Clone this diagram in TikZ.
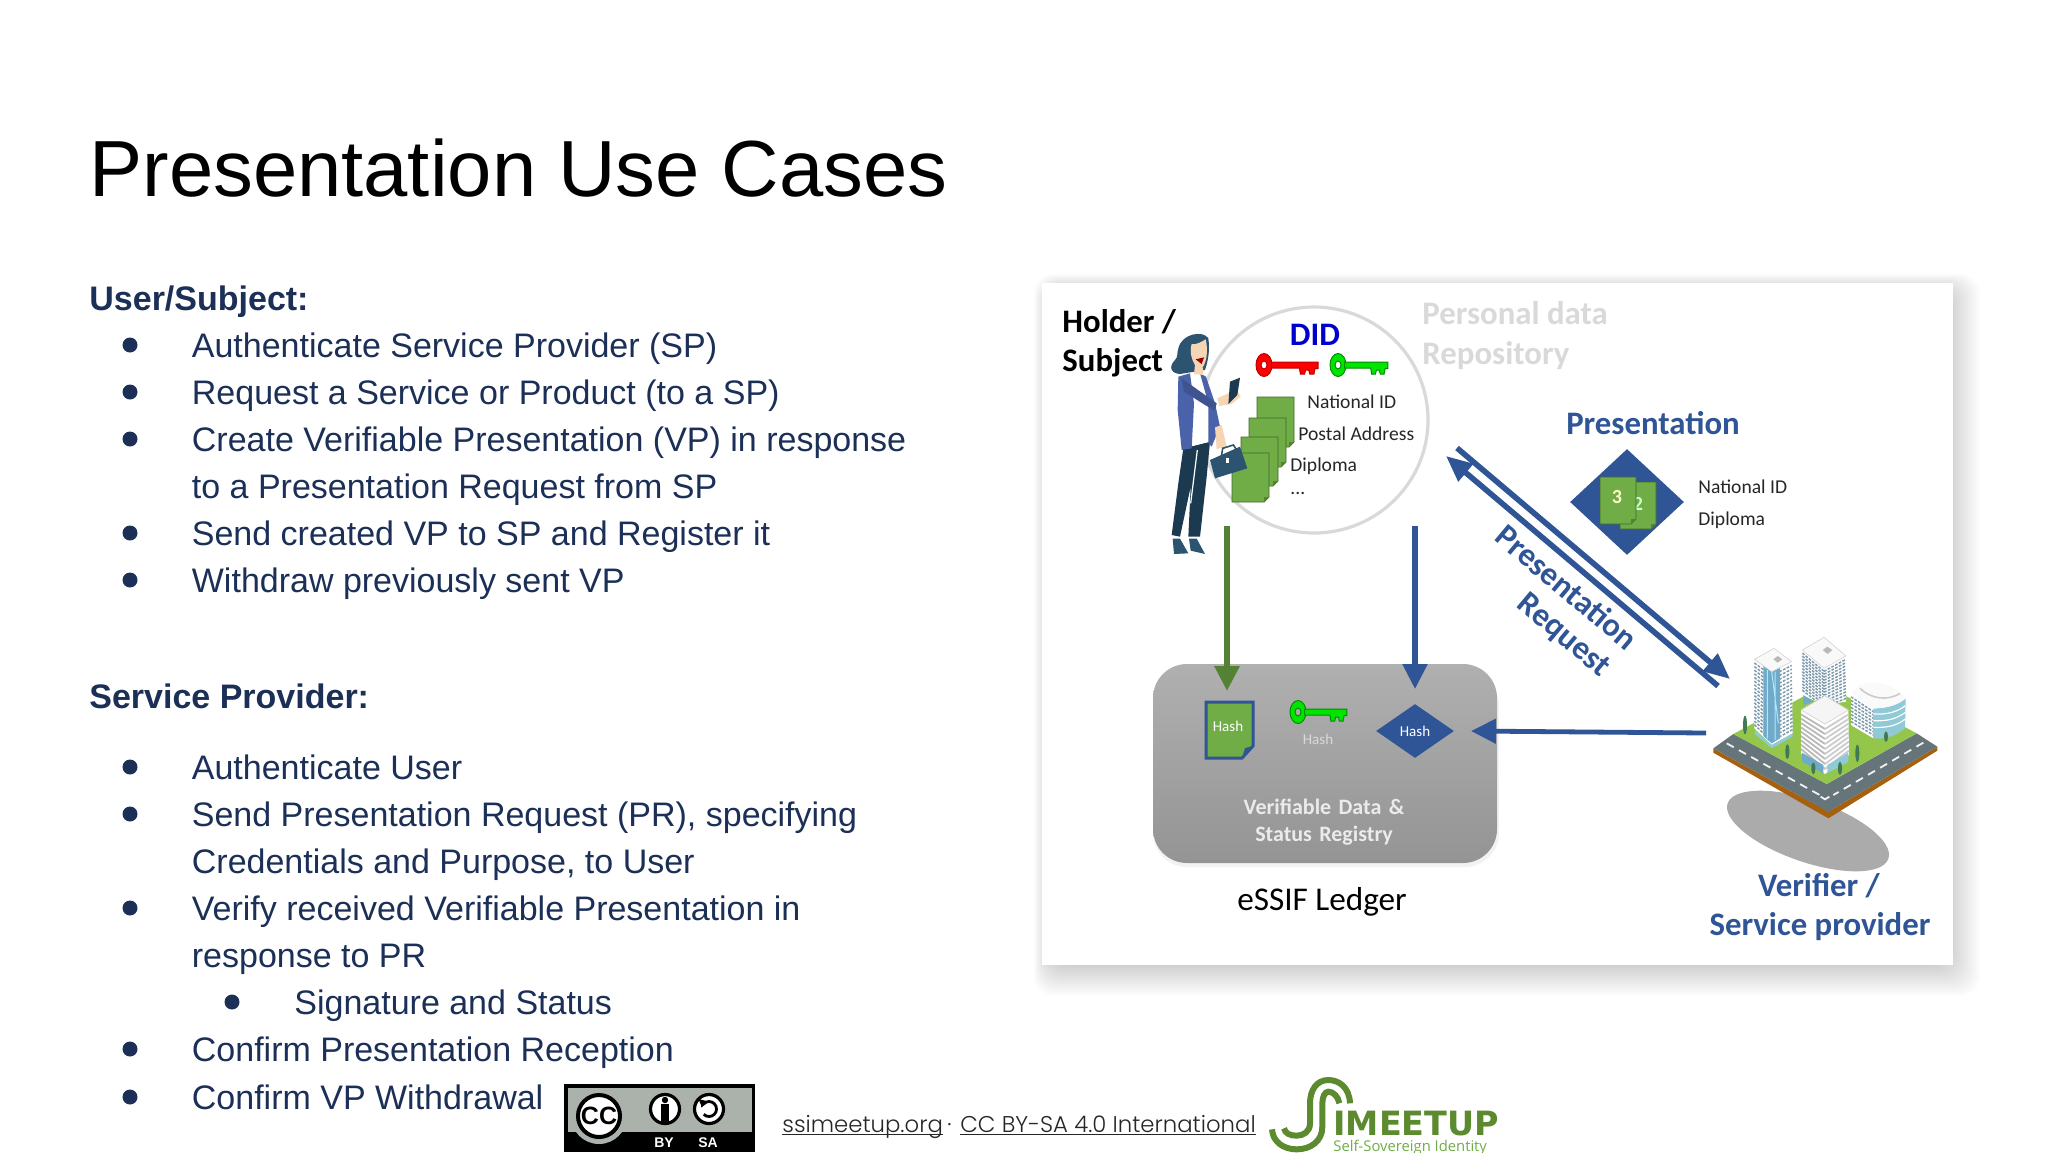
\documentclass[tikz,border=0pt]{standalone}
\usepackage{fontspec}
\setmainfont{Liberation Sans}
\newfontfamily\carl{Carlito}
\newfontfamily\pop[UprightFont=* Light]{Poppins}
\newfontfamily\djv{DejaVu Sans}
\newfontfamily\opn{Open Sans}
\usetikzlibrary{arrows.meta,calc,shapes.geometric}
\definecolor{navy}{HTML}{1B2F57}
\definecolor{pblue}{HTML}{2F5597}
\definecolor{dgreen}{HTML}{548235}
\definecolor{lgreen}{HTML}{70AD47}
\definecolor{ringgrey}{HTML}{D9D9D9}
\definecolor{hair}{HTML}{2C5470}
\definecolor{dark}{HTML}{1B3A50}
\definecolor{jacket}{HTML}{4A62A9}
\definecolor{skin}{HTML}{F6D5B5}
\definecolor{logo}{HTML}{5C8A2E}
\definecolor{road}{HTML}{66757A}
\definecolor{soil}{HTML}{A5610F}
\definecolor{lawn}{HTML}{93C64B}
\definecolor{win}{HTML}{7F9BAD}
\definecolor{glass}{HTML}{6FAAC9}
\definecolor{teal1}{HTML}{8FCAD6}
\definecolor{tree}{HTML}{3F7A55}
\definecolor{ccgrey}{HTML}{AAB2AB}
\tikzset{
 body/.style={anchor=base west,inner sep=0pt,text=navy,font=\fontsize{17}{20}\selectfont},
 head/.style={body,font=\bfseries\fontsize{17}{20}\selectfont},
 dot/.style={circle,fill=navy,inner sep=0pt,minimum size=7.5pt},
 small/.style={anchor=west,inner sep=0pt,font=\carl\fontsize{9.8}{12}\selectfont,text=black!85},
 big/.style={inner sep=0pt,font=\carl\bfseries\fontsize{16.4}{20}\selectfont},
 hash/.style={inner sep=0pt,font=\carl\fontsize{7.5}{9}\selectfont,text=white},
 reg/.style={inner sep=0pt,font=\carl\bfseries\fontsize{11}{13}\selectfont,text=white!92!black},
 docshape/.style={fill=lgreen,draw=dgreen!80!black,line width=.4pt},
 garrow/.style={draw=dgreen,line width=3pt,-{Triangle[length=12.5pt,width=12pt]}},
 barrow/.style={draw=pblue,line width=2.6pt,-{Triangle[length=12.5pt,width=12pt]}},
 darrow/.style={draw=pblue,line width=2.8pt,-{Triangle[length=13pt,width=11pt]}},
 fline/.style={inner sep=0pt,anchor=base west,font=\pop\fontsize{11.4}{14}\selectfont,text=black!85},
 ccring/.style={circle,draw=black,fill=white,inner sep=0pt},
}
\newcommand\keyshape[5]{% x, y, fill, outline, length scale
 \begin{scope}[shift={(#1,#2)}]
  \fill[#3,draw=#4,line width=.5pt,even odd rule] (0,0) ellipse [x radius=8,y radius=11.5] (0,0) ellipse [x radius=3,y radius=4];
  \begin{scope}[xscale=#5]
  \fill[#3,draw=#4,line width=.5pt] (7,-3) -- (52,-3) -- (52,3.5) -- (49,3.5) -- (48,9) -- (44,9) -- (43,5) -- (40,5) -- (39,9) -- (35,9) -- (34,3) -- (7,3) -- cycle;
  \end{scope}
 \end{scope}}
\newcommand\docpage[4]{% x1 y1 x2 y2
 \fill[docshape] (#1,#2) -- (#3,#2) -- (#3,#4-5) -- (#3-5,#4) -- (#1,#4) -- cycle;
 \fill[dgreen] (#3,#4-5) -- (#3-5,#4-5) -- (#3-5,#4) -- cycle;}
\newcommand\facegrid[6]{% A B C D n style
 \foreach \k in {1,...,#5}{
  \pgfmathsetmacro\tt{\k/(#5+1)}
  \draw[#6] ($(#1)!\tt!(#4)$) -- ($(#2)!\tt!(#3)$);}}
\tikzset{winrow/.style={win,line width=.75pt,dash pattern=on 1.4pt off .7pt}}
\begin{document}
\begin{tikzpicture}[x=.5pt,y=-.5pt]
\useasboundingbox (0,0) rectangle (2048,1152);
\fill[white] (0,0) rectangle (2048,1152);

% title and left text
\node[anchor=west,inner sep=0pt,font=\fontsize{39.8}{48}\selectfont] (title) at (89,168) {Presentation Use Cases};
\node[head] (h1) at (89,310) {User/Subject:};
\foreach \nm/\yy/\tx in {a1/345/{Authenticate Service Provider (SP)},a2/392/{Request a Service or Product (to a SP)},a3/439/{Create Verifiable Presentation (VP) in response},a5/533/{Send created VP to SP and Register it},a6/580/{Withdraw previously sent VP},b1/767/{Authenticate User},b2/814/{Send Presentation Request (PR), specifying},b4/908/{Verify received Verifiable Presentation in},b7/1049/{Confirm Presentation Reception},b8/1097/{Confirm VP Withdrawal}}{
 \node[body] (\nm) at (191.5,\yy+12) {\tx};
 \node[dot] (dot\nm) at (130,\yy) {};
}
\node[body] (a4) at (191.5,498) {to a Presentation Request from SP};
\node[head] (h2) at (89,708) {Service Provider:};
\node[body] (b3) at (191.5,873) {Credentials and Purpose, to User};
\node[body] (b5) at (191.5,967) {response to PR};
\node[body] (b6) at (294,1014) {Signature and Status};
\node[dot] (dotb6) at (232,1002) {};

% panel with soft shadow
\foreach \i in {0,2,...,34}{
 \fill[black,opacity=.010,rounded corners=10pt] (1052-18+\i/2,292-18+\i/2) rectangle (1980-\i,996-\i);
}
\fill[white] (1042,283) rectangle (1953,965);

% holder side
\draw[ringgrey,line width=1.6pt] (1314,420) ellipse [x radius=114,y radius=113];
\node[big,anchor=west] (holder) at (1062,322) {Holder /};
\node[big,anchor=west] (subject) at (1062,363) {Subject};
\node[big,text=ringgrey,anchor=west] (pd1) at (1422,313) {Personal data};
\node[big,text=ringgrey,anchor=west] (pd2) at (1422,356) {Repository};
\node[big,text={rgb,255:red,0;green,0;blue,204}] (did) at (1315,335) {DID};
\keyshape{1264}{365}{red}{red!75!black}{1.04}
\keyshape{1338}{365}{green!90!black}{green!55!black}{.96}
\docpage{1257}{397}{1294}{447}
\docpage{1249}{418}{1286}{467}
\docpage{1241}{437}{1278}{486}
\docpage{1232}{453}{1269}{502}
\node[small] (nid) at (1307,402) {National ID};
\node[small] (pad) at (1298,434) {Postal Address};
\node[small] (dip) at (1290,466) {Diploma};
\node[small] (ell) at (1290,493) {...};

% woman (coordinates of a 3x crop)
\begin{scope}[shift={(1040,270)},x=.5pt/3,y=-.5pt/3]
 \fill[dark] (430,535) -- (510,515) -- (500,620) -- (480,800) -- (445,800) -- (452,650) -- (420,800) -- (395,795) -- (415,640) -- cycle;
 \draw[white,line width=.6pt] (472,540) -- (452,700);
 \fill[hair] (398,806) -- (420,806) -- (445,850) -- (402,852) -- cycle;
 \fill[hair] (447,806) -- (470,806) -- (495,852) -- (452,842) -- cycle;
 \fill[white] (440,320) -- (490,320) -- (510,515) -- (450,530) -- cycle;
 \fill[jacket] (415,320) -- (450,310) -- (462,400) -- (455,535) -- (425,540) -- (413,420) -- cycle;
 \fill[jacket] (480,310) -- (498,320) -- (525,400) -- (540,470) -- (515,530) -- (505,520) -- (505,400) -- cycle;
 \fill[jacket!85!black] (425,325) -- (530,400) -- (525,422) -- (495,405) -- (432,365) -- cycle;
 \fill[skin] (525,472) -- (545,465) -- (560,530) -- (530,537) -- cycle;
 \fill[skin] (532,385) -- (590,358) -- (602,380) -- (575,402) -- (538,408) -- cycle;
 \fill[dark] (570,335) -- (600,323) -- (592,375) -- (565,402) -- cycle;
 \fill[hair] (415,235) .. controls (425,190) and (490,180) .. (505,205) .. controls (510,240) and (505,270) .. (495,300) -- (420,312) .. controls (392,310) and (385,290) .. (405,270) .. controls (415,260) and (410,250) .. (415,235) -- cycle;
 \fill[skin] (455,222) .. controls (470,225) and (485,215) .. (497,208) .. controls (505,240) and (500,275) .. (488,292) -- (490,315) -- (462,312) -- (465,285) .. controls (455,270) and (448,245) .. (455,222) -- cycle;
 \fill[red!60!black] (467,268) -- (492,262) -- (485,282) -- cycle;
 \fill[hair] (510,570) -- (600,530) -- (622,595) -- (525,625) -- cycle;
 \draw[hair,line width=.8pt] (545,555) -- (548,535) -- (580,525) -- (590,540);
 \fill[white] (558,565) rectangle (566,580);
\end{scope}

% ledger
\fill[black,opacity=.05,rounded corners=17pt] (1153,672) rectangle (1499,867);
\node[draw=none,rounded corners=17pt,top color=black!31,bottom color=black!42,minimum width=172pt,minimum height=99.5pt,inner sep=0pt] (ledger) at (1325,763.5) {};
\fill[docshape,draw=pblue,line width=1.5pt] (1206,702) -- (1253,702) -- (1253,746) -- (1242,758) -- (1206,758) -- cycle;
\fill[pblue] (1253,746) -- (1245,748) -- (1242,758) -- cycle;
\node[hash,text=white] (h1x) at (1228,726) {Hash};
\keyshape{1298}{712}{green!90!black}{green!55!black}{.94}
\node[hash,text=white!85!black] (h2x) at (1318,739) {Hash};
\node[diamond,aspect=1.4,fill=pblue,inner sep=0pt,minimum width=39pt,minimum height=27pt,hash] (hdia) at (1415,731) {Hash};
\node[reg] (r1) at (1324,807) {Verifiable\hspace{1.2pt} Data\hspace{1.2pt} \&};
\node[reg] (r2) at (1324,836) {Status\hspace{1.2pt} Registry};
\node[inner sep=0pt,font=\carl\fontsize{16.6}{20}\selectfont] (essif) at (1322,902) {eSSIF Ledger};

% presentation
\node[big,text=pblue] (pres) at (1653,423) {Presentation};
\node[diamond,fill=pblue,aspect=1.07,inner sep=0pt,minimum width=57pt,minimum height=53pt] (pdia) at (1627,502) {};
\docpage{1620}{482}{1656}{529}
\node[inner sep=0pt,text=white!80!green,font=\carl\bfseries\fontsize{10}{12}\selectfont] (n2) at (1638,504) {2};
\docpage{1600}{477}{1636}{524}
\node[inner sep=0pt,text=white!80!yellow,font=\carl\bfseries\fontsize{10}{12}\selectfont] (n3) at (1617,497) {3};
\node[small] (nid2) at (1698,487) {National ID};
\node[small] (dip2) at (1698,520) {Diploma};

\node[big,text=pblue,rotate=-40] (pr1) at (1567,587) {Presentation};
\node[big,text=pblue,rotate=-40] (pr2) at (1563,636) {Request};

% verifier side
\fill[black!33,shift={(1808,831)},rotate=-19] (0,0) ellipse [x radius=85,y radius=31];
\begin{scope}[shift={(1700,630)},x=.5pt/3,y=-.5pt/3]
 \fill[soil] (40,355) -- (40,368) -- (385,565) -- (712,362) -- (712,350) -- (385,545) -- cycle;
 \fill[road] (40,355) -- (100,312) -- (380,462) -- (650,310) -- (712,350) -- (385,545) -- cycle;
 \fill[lawn] (100,312) -- (375,165) -- (650,310) -- (380,462) -- cycle;
 \draw[white!90!gray,line width=.9pt,dash pattern=on 4pt off 3pt] (80,340) -- (368,500);
 \draw[white!90!gray,line width=.9pt,dash pattern=on 4pt off 3pt] (670,338) -- (400,495);
 \draw[white!90!gray,line width=.9pt] (362,500) -- (375,508) -- (388,500);
 % back tower
 \fill[white] (307,60) -- (372,115) -- (372,225) -- (307,195) -- cycle;
 \fill[white] (372,115) -- (438,78) -- (438,215) -- (372,225) -- cycle;
 \fill[glass] (310,195) -- (340,215) -- (310,225) -- cycle;
 \fill[white!95!gray,draw=gray!35,line width=.3pt] (307,60) -- (372,22) -- (438,78) -- (372,115) -- cycle;
 \facegrid{307,60}{372,115}{372,240}{307,190}{13}{winrow}
 \facegrid{372,115}{438,78}{438,215}{372,240}{13}{winrow}
 \fill[gray!55] (368,60) -- (382,50) -- (397,60) -- (383,72) -- cycle;
 % left tower
 \fill[white] (163,88) -- (215,125) -- (215,345) -- (163,295) -- cycle;
 \fill[white] (215,125) -- (275,95) -- (278,310) -- (215,345) -- cycle;
 \facegrid{163,88}{215,125}{215,345}{163,295}{18}{winrow}
 \facegrid{215,125}{275,95}{278,310}{215,345}{18}{winrow}
 \fill[glass] (190,107) -- (215,125) -- (240,112) -- (240,325) -- (215,340) -- (190,318) -- cycle;
 \draw[white!70!cyan,line width=.5pt] (202,120) -- (202,325) (225,125) -- (225,330) (215,125) -- (235,280);
 \fill[white!95!gray,draw=gray!35,line width=.3pt] (163,88) -- (222,55) -- (275,95) -- (215,125) -- cycle;
 \fill[gray!55] (220,88) -- (233,78) -- (247,88) -- (233,98) -- cycle;
 \fill[teal1] (165,300) -- (215,345) -- (278,310) -- (278,320) -- (215,355) -- (165,312) -- cycle;
 % right curved block
 \fill[white] (453,190) -- (520,235) -- (520,325) -- (453,285) -- cycle;
 \facegrid{453,190}{520,235}{520,325}{453,285}{8}{winrow}
 \fill[teal1] (520,235) .. controls (570,235) and (600,220) .. (617,205) -- (615,295) .. controls (590,315) and (560,330) .. (520,325) -- cycle;
 \foreach \yy in {252,272,292}{\draw[white,line width=.6pt] (520,\yy) .. controls (560,\yy+2) and (590,\yy-5) .. (616,\yy-25);}
 \fill[white!96!gray] (453,190) -- (480,165) .. controls (530,145) and (590,170) .. (617,205) .. controls (600,220) and (570,235) .. (520,235) -- cycle;
 \draw[gray!40,line width=.8pt] (480,175) .. controls (510,205) and (560,215) .. (600,190);
 % front block
 \fill[white] (303,240) -- (375,282) -- (375,432) -- (303,370) -- cycle;
 \fill[white] (375,282) -- (445,240) -- (447,375) -- (375,432) -- cycle;
 \facegrid{303,240}{375,282}{375,432}{303,370}{9}{gray!55,line width=.9pt}
 \facegrid{375,282}{445,240}{447,375}{375,432}{9}{gray!40,line width=.9pt}
 \fill[glass] (306,368) -- (370,405) -- (370,430) -- (306,395) -- cycle;
 \fill[teal1] (382,405) -- (445,368) -- (445,395) -- (382,430) -- cycle;
 \fill[white!92!gray,draw=gray!35,line width=.3pt] (303,240) -- (375,197) -- (445,240) -- (375,282) -- cycle;
 % trees
 \foreach \tx/\ty/\tr in {135/285/28,262/365/22,340/415/18,420/415/20,472/370/26,558/320/16}{
  \fill[tree] (\tx,\ty) ellipse [x radius=6,y radius=\tr];}
\end{scope}
\node[big,text=pblue] (ver1) at (1819,886) {Verifier /};
\node[big,text=pblue] (ver2) at (1820,927) {Service provider};

% connectors
\coordinate (gs) at (1227,526);
\coordinate (ge) at (1227,691);
\coordinate (bs) at (1415,526);
\coordinate (be) at (1415,689);
\coordinate (hs) at (1706,733);
\coordinate (he) at (1471,731);
\coordinate (ps) at (1457,448);
\coordinate (pe) at (1730,679);
\coordinate (rs) at (1718,686);
\coordinate (re) at (1446,456);
\draw[garrow] (gs) -- (ge);
\draw[barrow] (bs) -- (be);
\draw[barrow,line width=2.4pt] (hs) -- (he);
\draw[darrow] (ps) -- (pe);
\draw[darrow] (rs) -- (re);

% footer
\fill[black] (564,1084) rectangle (755,1152);
\fill[ccgrey] (568,1088) rectangle (752,1132);
\fill[ccgrey] (599,1116) circle [radius=28];
\node[ccring,line width=2pt,minimum size=21pt,font=\bfseries\fontsize{12.5}{12}\selectfont] (cc) at (599,1116) {CC};
\node[ccring,line width=1.6pt,minimum size=14.5pt] (by) at (665,1109) {};
\node[ccring,line width=1.6pt,minimum size=14.5pt] (sa) at (709,1109) {};
\fill[black] (665,1100) circle [radius=3.2];
\fill[black] (661,1104) rectangle (669,1122);
\draw[black,line width=1.4pt,-{Triangle[length=3.5pt,width=5pt]}] (703.7,1114.3) arc [start angle=135,end angle=-165,radius=7.5];
\node[inner sep=0pt,text=white,font=\bfseries\fontsize{7}{8}\selectfont] (bytx) at (664,1143) {BY};
\node[inner sep=0pt,text=white,font=\bfseries\fontsize{7}{8}\selectfont] (satx) at (708,1143) {SA};

\node[fline] (f1) at (782,1132) {\underline{\smash{ssimeetup.org}}};
\node[fline] (fd) at (947,1132) {·};
\node[fline] (f2) at (960,1132) {\underline{\smash{CC BY-SA 4.0 International}}};

\begin{scope}[shift={(1260,1070)},x=.5pt/3,y=-.5pt/3]
 \draw[logo,line width=3pt] (270,100) .. controls (268,50) and (235,30) .. (205,30) .. controls (170,30) and (150,60) .. (150,100) -- (150,160) .. controls (150,185) and (130,197) .. (110,197) .. controls (90,197) and (75,190) .. (72,175);
 \draw[logo,line width=3pt] (238,100) .. controls (235,80) and (220,65) .. (205,65) .. controls (195,65) and (187,80) .. (187,100) -- (187,170) .. controls (187,215) and (150,238) .. (110,238) .. controls (70,238) and (38,215) .. (36,178);
\end{scope}
\node[anchor=base west,inner sep=0pt,text=logo,font=\djv\bfseries\fontsize{16.7}{20}\selectfont] (imeetup) at (1333,1135) {IMEETUP};
\node[anchor=base west,inner sep=0pt,text=lgreen,font=\opn\fontsize{7.4}{9}\selectfont] (ssi) at (1333,1151) {Self-Sovereign Identity};
\end{tikzpicture}
\end{document}
